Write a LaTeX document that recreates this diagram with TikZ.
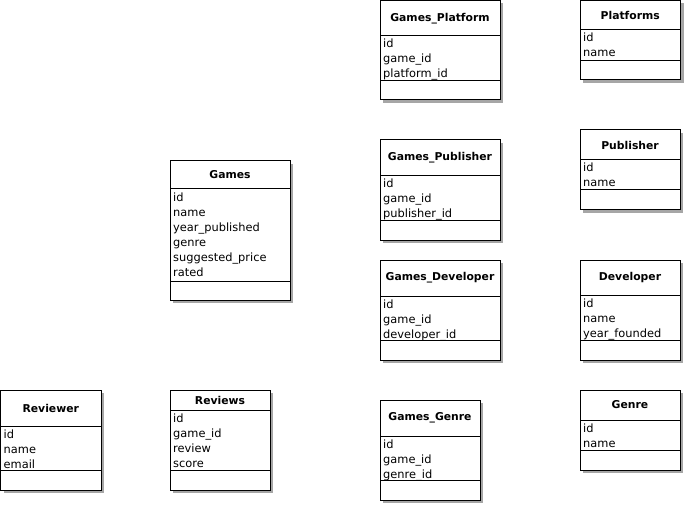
\documentclass[tikz,border=0pt]{standalone}
\usepackage{fontspec}
\setmainfont{DejaVu Sans}
\definecolor{shadowc}{HTML}{A6A6A6}
\tikzset{
  x=1pt, y=-1pt,
  clsbox/.style={draw=black, line width=1pt, fill=white, rectangle, inner sep=0pt, outer sep=0pt},
  sepline/.style={draw=black, line width=1pt},
  clstitle/.style={inner sep=0pt, font=\fontsize{10.8}{13}\selectfont\bfseries},
  attr/.style={inner sep=0pt, font=\fontsize{11.4}{15}\selectfont},
}
% #1 name, #2 x, #3 y, #4 width, #5 header offset, #6 attr offset, #7 height, #8 title, #9 attributes
\newcommand\umlcls[9]{%
  \fill[shadowc] (#2+3,#3+3) rectangle (#2+#4+3,#3+#7+3);
  \node[clsbox, minimum width=#4pt, minimum height=#7pt, anchor=north west] (#1) at (#2,#3) {};
  \draw[sepline] (#2,#3+#5) -- (#2+#4,#3+#5);
  \draw[sepline] (#2,#3+#6) -- (#2+#4,#3+#6);
  \node[clstitle] (#1-title) at (#2+#4/2,#3+#5/2) {#8};
  \foreach \a [count=\i] in {#9}
    \node[attr, anchor=base west] (#1-a\i) at (#2+3,#3+#5+12+15*\i-15) {\a};
}
\begin{document}
\begin{tikzpicture}
\useasboundingbox (0,0) rectangle (685,505);
\umlcls{gplat}{380}{0.5}{120}{35.5}{80}{99.5}{Games\_Platform}{id,game\_id,platform\_id}
\umlcls{plat}{580}{0.5}{100.5}{29.5}{60}{79.5}{Platforms}{id,name}
\umlcls{games}{170}{161}{120}{28}{120}{139}{Games}{id,name,year\_published,genre,suggested\_price,rated}
\umlcls{gpub}{380}{140}{120}{36}{80}{100}{Games\_Publisher}{id,game\_id,publisher\_id}
\umlcls{pub}{580}{130}{100}{30}{60}{80}{Publisher}{id,name}
\umlcls{gdev}{380}{260}{120}{36}{80}{100}{Games\_Developer}{id,game\_id,developer\_id}
\umlcls{dev}{580}{260}{100}{35}{80}{100}{Developer}{id,name,year\_founded}
\umlcls{rver}{0.5}{390}{100.5}{36}{80}{100}{Reviewer}{id,name,email}
\umlcls{revs}{170}{390}{100}{20}{80}{100}{Reviews}{id,game\_id,review,score}
\umlcls{ggen}{380}{400}{100}{36}{80}{100}{Games\_Genre}{id,game\_id,genre\_id}
\umlcls{gen}{580}{390}{100}{30}{60}{80}{Genre}{id,name}
\end{tikzpicture}
\end{document}
